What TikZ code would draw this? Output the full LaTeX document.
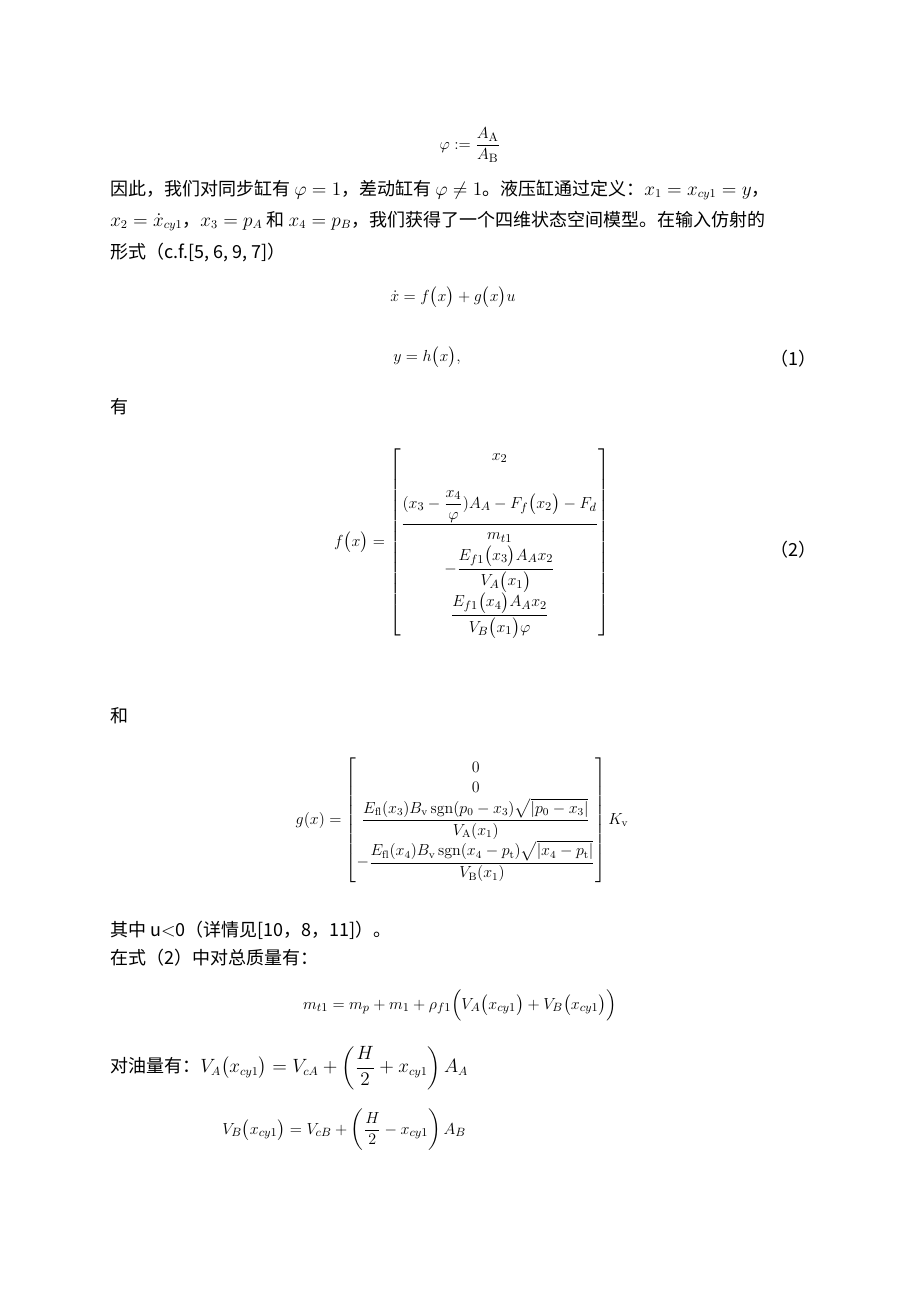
\documentclass[tikz,border=0pt]{standalone}
\usepackage{amsmath,amssymb}
\usepackage{fontspec}
\newfontfamily\cjk{Noto Sans CJK SC}
\begin{document}
\begin{tikzpicture}[x=0.75pt,y=-0.75pt,
  txt/.style={anchor=west,inner sep=0pt,font=\cjk\fontsize{13.5}{16}\selectfont},
  eq/.style={inner sep=0pt,font=\fontsize{13}{16}\selectfont}]
\useasboundingbox[fill=white] (0,0) rectangle (920,1302);
\node[eq] (phi) at (470,145) {$\varphi := \dfrac{A_{\mathrm{A}}}{A_{\mathrm{B}}}$};
\node[txt] (l1) at (110,190) {因此，我们对同步缸有 $\varphi=1$，差动缸有 $\varphi\neq1$。液压缸通过定义：$x_1=x_{cy1}=y$，};
\node[txt] (l2) at (110,221) {$x_2=\dot x_{cy1}$，$x_3=p_A$ 和 $x_4=p_B$，我们获得了一个四维状态空间模型。在输入仿射的};
\node[txt] (l3) at (110,253) {形式（c.f.[5, 6, 9, 7]）};
\node[eq] (e1) at (453,297) {$\dot x=f\bigl(x\bigr)+g\bigl(x\bigr)u$};
\node[eq] (e2) at (427,357) {$y=h\bigl(x\bigr),$};
\node[txt] (n1) at (770,359) {（1）};
\node[txt] (you) at (110,407) {有};
\node[eq] (fx) at (472,542) {$f\bigl(x\bigr)=\left[\begin{matrix}
x_2\\[18pt]
\dfrac{(x_3-\dfrac{x_4}{\varphi})A_A-F_f\bigl(x_2\bigr)-F_d}{m_{t1}}\\[8pt]
-\dfrac{E_{f1}\bigl(x_3\bigr)A_Ax_2}{V_A\bigl(x_1\bigr)}\\[8pt]
\dfrac{E_{f1}\bigl(x_4\bigr)A_Ax_2}{V_B\bigl(x_1\bigr)\varphi}\\[6pt]
\end{matrix}\right]$};
\node[txt] (n2) at (770,550) {（2）};
\node[txt] (he) at (110,716) {和};
\node[eq,font=\fontsize{12}{15}\selectfont] (gx) at (462,820) {$g(x)=\left[\begin{matrix}
0\\ 0\\
\dfrac{E_{\mathrm{fl}}(x_3)B_{\mathrm{v}}\operatorname{sgn}(p_0-x_3)\sqrt{|p_0-x_3|}}{V_{\mathrm{A}}(x_1)}\\[8pt]
-\dfrac{E_{\mathrm{fl}}(x_4)B_{\mathrm{v}}\operatorname{sgn}(x_4-p_{\mathrm{t}})\sqrt{|x_4-p_{\mathrm{t}}|}}{V_{\mathrm{B}}(x_1)}
\end{matrix}\right]K_{\mathrm{v}}$};
\node[txt] (q1) at (110,930) {其中 u$<$0（详情见[10，8，11]）。};
\node[txt] (q2) at (110,958) {在式（2）中对总质量有：};
\node[eq] (mt) at (460,1005) {$m_{t1}=m_p+m_1+\rho_{f1}\Bigl(V_A\bigl(x_{cy1}\bigr)+V_B\bigl(x_{cy1}\bigr)\Bigr)$};
\node[txt] (q3) at (110,1068) {对油量有：$V_A\bigl(x_{cy1}\bigr)=V_{cA}+\left(\dfrac{H}{2}+x_{cy1}\right)A_A$};
\node[eq,anchor=west] (vb) at (222,1130) {$V_B\bigl(x_{cy1}\bigr)=V_{cB}+\left(\dfrac{H}{2}-x_{cy1}\right)A_B$};
\end{tikzpicture}
\end{document}
